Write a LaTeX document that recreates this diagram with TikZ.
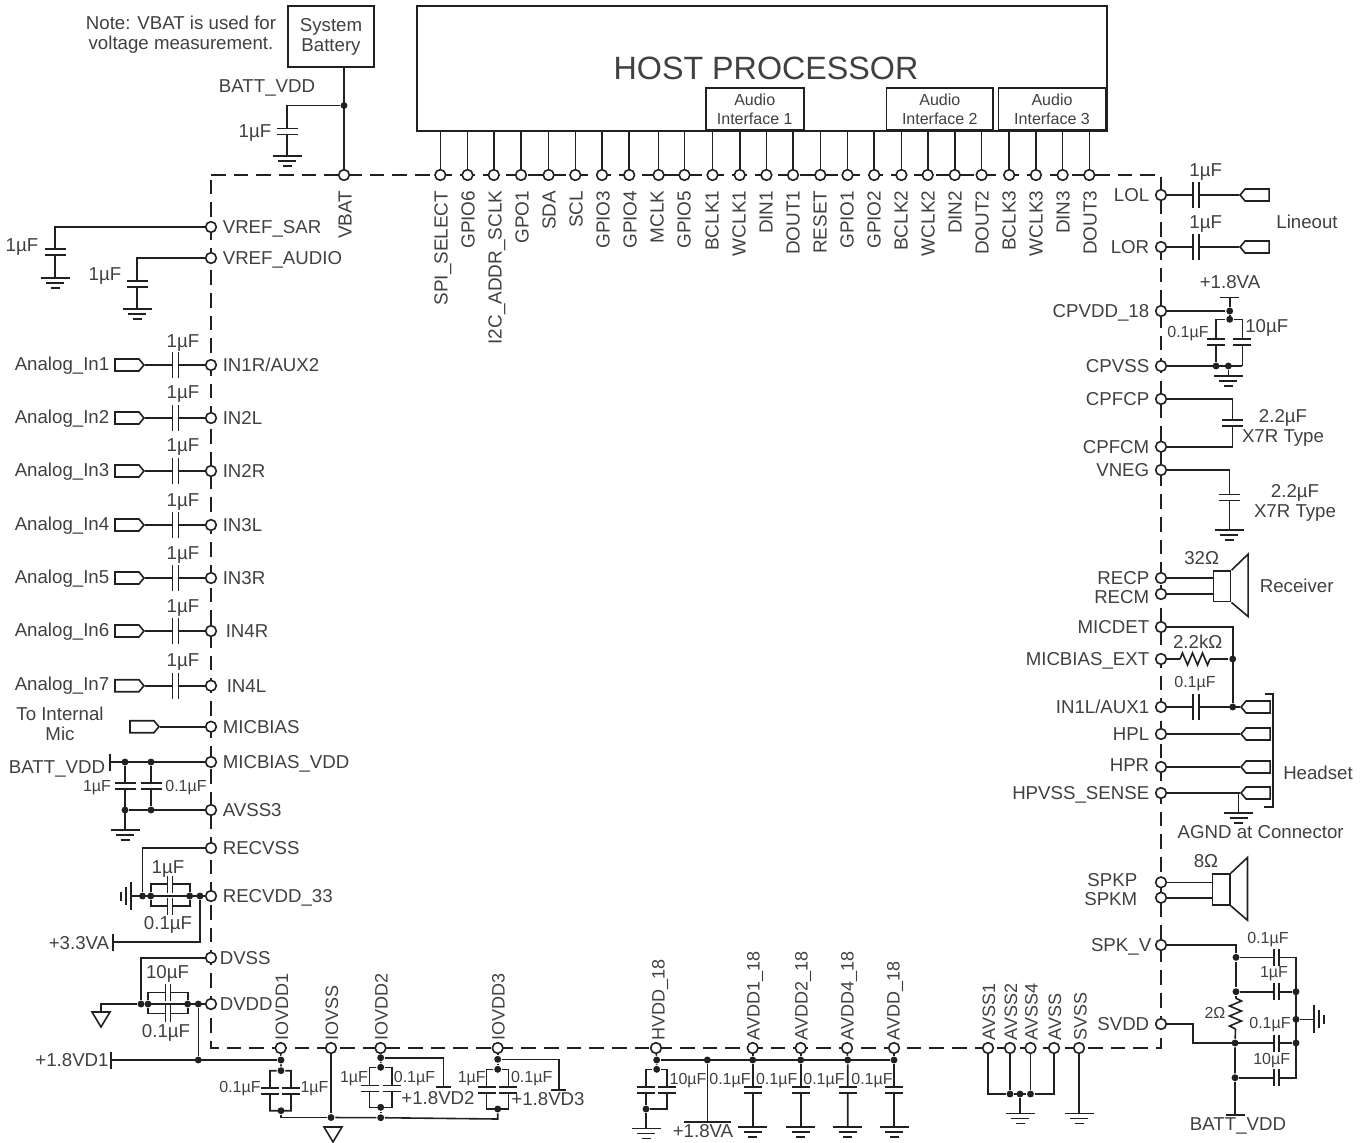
\documentclass[tikz,border=0pt]{standalone}
\usepackage{fontspec}
\setmainfont{Liberation Sans}
\usepackage{xcolor}
\usetikzlibrary{shapes}
\definecolor{wire}{HTML}{231F20}
\tikzstyle{port}=[circle,draw,fill=white,inner sep=0pt,minimum size=8pt]
\tikzstyle{dot}=[circle,fill=wire,inner sep=0pt,minimum size=5.2pt]
\tikzstyle{box}=[rectangle,draw,inner sep=0pt,text=black!75,align=center]
\tikzstyle{sig}=[signal,draw,fill=white,inner sep=0pt,minimum width=21.75pt,minimum height=9pt,signal pointer angle=100]
\tikzstyle{txt}=[inner sep=0pt,text=black!75,font=\fontsize{14}{15}\selectfont,align=center]
\tikzstyle{lab}=[txt,text height=10pt,text depth=0pt]
\tikzstyle{smalllab}=[lab,font=\fontsize{12}{14}\selectfont,text height=8.6pt]
\tikzstyle{rlab}=[lab,anchor=east]
\tikzstyle{llab}=[lab,anchor=west]
\tikzstyle{toplab}=[lab,font=\fontsize{14.2}{15}\selectfont,rotate=90,anchor=east]
\tikzstyle{botlab}=[lab,font=\fontsize{13.5}{15}\selectfont,rotate=90,anchor=west]
\tikzset{
  vcap/.pic={\fill[white] (-10.5,-3) rectangle (10.5,3); \draw (-10.5,-3) -- (10.5,-3) (-10.5,3) -- (10.5,3);},
  svcap/.pic={\fill[white] (-9,-3) rectangle (9,3); \draw (-9,-3) -- (9,-3) (-9,3) -- (9,3);},
  hcap/.pic={\fill[white] (-3,-13) rectangle (3,13); \draw (-3,-13) -- (-3,13) (3,-13) -- (3,13);},
  shcap/.pic={\fill[white] (-2.5,-8.5) rectangle (2.5,8.5); \draw (-2.5,-8.5) -- (-2.5,8.5) (2.5,-8.5) -- (2.5,8.5);},
  gnd/.pic={\draw (-14.5,0) -- (14.5,0) (-9,5) -- (9,5) (-4.5,10) -- (4.5,10);},
  gndw/.pic={\draw (0,-14) -- (0,14) (-5,-9) -- (-5,9) (-10,-4.5) -- (-10,4.5);},
  gnde/.pic={\draw (0,-14) -- (0,14) (5,-9) -- (5,9) (10,-4.5) -- (10,4.5);},
  gndtri/.pic={\draw (-9,0) -- (9,0) -- (0,15) -- cycle;},
  vbar/.pic={\draw (0,-8.5) -- (0,8.5);},
  hbar/.pic={\draw (-9.5,0) -- (9.5,0);},
  resh/.pic={\draw (-15,0) -- (-12.5,-6) -- (-7.5,6) -- (-2.5,-6) -- (2.5,6) -- (7.5,-6) -- (12.5,6) -- (15,0);},
  resv/.pic={\draw (0,-15.5) -- (6,-12.5) -- (-6,-7.5) -- (6,-2.5) -- (-6,2.5) -- (6,7.5) -- (-6,12.5) -- (0,15.5);}
}

\begin{document}
\begin{tikzpicture}[x=0.75pt,y=-0.75pt,line width=1.2pt,color=wire]
        \useasboundingbox (0,0) rectangle (1366,1142);

        % device outline
        \coordinate (tl) at (211,175);
        \coordinate (tr) at (1161,175);
        \coordinate (br) at (1161,1048);
        \coordinate (bl) at (211,1048);
        \draw[dash pattern=on 11pt off 6pt] (tl) -- (tr) -- (br) -- (bl) -- cycle;

        % host
        \node at (762,68.5) [box,minimum width=517.5pt,minimum height=93.75pt] (host) {};
        \node at (766,68) [txt,font=\fontsize{24.2}{28}\selectfont] (thost) {HOST PROCESSOR};
        \node at (754.7,109) [box,fill=white,font=\fontsize{12}{14.25}\selectfont,minimum width=73.5pt,minimum height=31.7pt] (audio1) {Audio\\Interface 1};
        \node at (939.8,109) [box,fill=white,font=\fontsize{12}{14.25}\selectfont,minimum width=80pt,minimum height=31.7pt] (audio2) {Audio\\Interface 2};
        \node at (1052,109) [box,fill=white,font=\fontsize{12}{14.25}\selectfont,minimum width=80pt,minimum height=31.7pt] (audio3) {Audio\\Interface 3};

        % top pins
        \node at (440.3,175) [port] (SPISELECT) {};
        \node at (441,190) [toplab] (tSPISELECT) {SPI\_SELECT};
        \node at (467.5,175) [port] (GPIO6) {};
        \node at (468,190) [toplab] (tGPIO6) {GPIO6};
        \node at (493.8,175) [port] (I2CADDR) {};
        \node at (495,190) [toplab] (tI2CADDR) {I2C\_ADDR\_SCLK};
        \node at (521,175) [port] (GPO1) {};
        \node at (522,190) [toplab] (tGPO1) {GPO1};
        \node at (548.6,175) [port] (SDA) {};
        \node at (549,190) [toplab] (tSDA) {SDA};
        \node at (575.3,175) [port] (SCL) {};
        \node at (576,190) [toplab] (tSCL) {SCL};
        \node at (602,175) [port] (GPIO3) {};
        \node at (603,190) [toplab] (tGPIO3) {GPIO3};
        \node at (629.2,175) [port] (GPIO4) {};
        \node at (630,190) [toplab] (tGPIO4) {GPIO4};
        \node at (658.6,175) [port] (MCLK) {};
        \node at (657,190) [toplab] (tMCLK) {MCLK};
        \node at (684.5,175) [port] (GPIO5) {};
        \node at (684,190) [toplab] (tGPIO5) {GPIO5};
        \node at (712.5,175) [port] (BCLK1) {};
        \node at (712,190) [toplab] (tBCLK1) {BCLK1};
        \node at (739.7,175) [port] (WCLK1) {};
        \node at (739,190) [toplab] (tWCLK1) {WCLK1};
        \node at (766.4,175) [port] (DIN1) {};
        \node at (766,190) [toplab] (tDIN1) {DIN1};
        \node at (793,175) [port] (DOUT1) {};
        \node at (793,190) [toplab] (tDOUT1) {DOUT1};
        \node at (820.3,175) [port] (RESET) {};
        \node at (820,190) [toplab] (tRESET) {RESET};
        \node at (847.5,175) [port] (GPIO1) {};
        \node at (847,190) [toplab] (tGPIO1) {GPIO1};
        \node at (874.2,175) [port] (GPIO2) {};
        \node at (874,190) [toplab] (tGPIO2) {GPIO2};
        \node at (901.4,175) [port] (BCLK2) {};
        \node at (901,190) [toplab] (tBCLK2) {BCLK2};
        \node at (927.7,175) [port] (WCLK2) {};
        \node at (928,190) [toplab] (tWCLK2) {WCLK2};
        \node at (954.8,175) [port] (DIN2) {};
        \node at (955,190) [toplab] (tDIN2) {DIN2};
        \node at (981.6,175) [port] (DOUT2) {};
        \node at (982,190) [toplab] (tDOUT2) {DOUT2};
        \node at (1009.2,175) [port] (BCLK3) {};
        \node at (1009,190) [toplab] (tBCLK3) {BCLK3};
        \node at (1035.9,175) [port] (WCLK3) {};
        \node at (1036,190) [toplab] (tWCLK3) {WCLK3};
        \node at (1062.6,175) [port] (DIN3) {};
        \node at (1063,190) [toplab] (tDIN3) {DIN3};
        \node at (1089.3,175) [port] (DOUT3) {};
        \node at (1090,190) [toplab] (tDOUT3) {DOUT3};

        \draw (SPISELECT |- host.south) -- (SPISELECT);
        \draw (GPIO6 |- host.south) -- (GPIO6);
        \draw (I2CADDR |- host.south) -- (I2CADDR);
        \draw (GPO1 |- host.south) -- (GPO1);
        \draw (SDA |- host.south) -- (SDA);
        \draw (SCL |- host.south) -- (SCL);
        \draw (GPIO3 |- host.south) -- (GPIO3);
        \draw (GPIO4 |- host.south) -- (GPIO4);
        \draw (MCLK |- host.south) -- (MCLK);
        \draw (GPIO5 |- host.south) -- (GPIO5);
        \draw (BCLK1 |- host.south) -- (BCLK1);
        \draw (WCLK1 |- host.south) -- (WCLK1);
        \draw (DIN1 |- host.south) -- (DIN1);
        \draw (DOUT1 |- host.south) -- (DOUT1);
        \draw (RESET |- host.south) -- (RESET);
        \draw (GPIO1 |- host.south) -- (GPIO1);
        \draw (GPIO2 |- host.south) -- (GPIO2);
        \draw (BCLK2 |- host.south) -- (BCLK2);
        \draw (WCLK2 |- host.south) -- (WCLK2);
        \draw (DIN2 |- host.south) -- (DIN2);
        \draw (DOUT2 |- host.south) -- (DOUT2);
        \draw (BCLK3 |- host.south) -- (BCLK3);
        \draw (WCLK3 |- host.south) -- (WCLK3);
        \draw (DIN3 |- host.south) -- (DIN3);
        \draw (DOUT3 |- host.south) -- (DOUT3);

        % battery
        \node at (331,36.5) [box,font=\fontsize{14}{15}\selectfont,minimum width=64.5pt,minimum height=45.75pt] (battery) {System\\Battery};
        \node at (181,35) [txt] (tnote) {Note: VBAT is used for\\voltage measurement.};
        \node at (267,86) [lab] (tbatt) {BATT\_VDD};
        \node at (255,131) [lab] (cbat) {1µF};
        \node at (344,175) [port] (VBAT) {};
        \node at (345,190) [toplab] (tVBAT) {VBAT};
        \node at (344,105.5) [dot] (jbat) {};
        \coordinate (gbat) at (287,156);
        \draw (battery.south -| VBAT) -- (VBAT);
        \draw (jbat) -| (gbat);
        \pic at (287,131.5) {vcap};
        \pic at (gbat) {gnd};

        % references
        \node at (211,227) [port] (VREFSAR) {};
        \node at (222,227) [llab] (tVREFSAR) {VREF\_SAR};
        \node at (22,245) [lab] (cVREFSAR) {1µF};
        \coordinate (gsar) at (55,278);
        \draw (VREFSAR) -| (gsar);
        \pic at (55,252) {vcap};
        \pic at (gsar) {gnd};
        \node at (211,258) [port] (VREFAUDIO) {};
        \node at (222,258) [llab] (tVREFAUDIO) {VREF\_AUDIO};
        \node at (105,274) [lab] (cVREFAUDIO) {1µF};
        \coordinate (gaudio) at (137,309);
        \draw (VREFAUDIO) -| (gaudio);
        \pic at (137,283.7) {vcap};
        \pic at (gaudio) {gnd};

        % analog inputs
        \node at (211,365) [port] (IN1R) {};
        \node at (222,365) [llab] (tIN1R) {IN1R/AUX2};
        \node at (145,365) [sig,anchor=east,signal to=east] (AIN1) {};
        \node at (62,364) [lab] (tAIN1) {Analog\_In1};
        \node at (183,341) [lab] (cAIN1) {1µF};
        \draw (AIN1.east) -- (IN1R);
        \pic at (175.5,365) {hcap};
        \node at (211,418) [port] (IN2L) {};
        \node at (222,418) [llab] (tIN2L) {IN2L};
        \node at (145,418) [sig,anchor=east,signal to=east] (AIN2) {};
        \node at (62,417) [lab] (tAIN2) {Analog\_In2};
        \node at (183,392) [lab] (cAIN2) {1µF};
        \draw (AIN2.east) -- (IN2L);
        \pic at (175.5,418) {hcap};
        \node at (211,471) [port] (IN2R) {};
        \node at (222,471) [llab] (tIN2R) {IN2R};
        \node at (145,471) [sig,anchor=east,signal to=east] (AIN3) {};
        \node at (62,470) [lab] (tAIN3) {Analog\_In3};
        \node at (183,445) [lab] (cAIN3) {1µF};
        \draw (AIN3.east) -- (IN2R);
        \pic at (175.5,471) {hcap};
        \node at (211,525) [port] (IN3L) {};
        \node at (222,525) [llab] (tIN3L) {IN3L};
        \node at (145,525) [sig,anchor=east,signal to=east] (AIN4) {};
        \node at (62,524) [lab] (tAIN4) {Analog\_In4};
        \node at (183,500) [lab] (cAIN4) {1µF};
        \draw (AIN4.east) -- (IN3L);
        \pic at (175.5,525) {hcap};
        \node at (211,578) [port] (IN3R) {};
        \node at (222,578) [llab] (tIN3R) {IN3R};
        \node at (145,578) [sig,anchor=east,signal to=east] (AIN5) {};
        \node at (62,577) [lab] (tAIN5) {Analog\_In5};
        \node at (183,553) [lab] (cAIN5) {1µF};
        \draw (AIN5.east) -- (IN3R);
        \pic at (175.5,578) {hcap};
        \node at (211,631) [port] (IN4R) {};
        \node at (225,631) [llab] (tIN4R) {IN4R};
        \node at (145,631) [sig,anchor=east,signal to=east] (AIN6) {};
        \node at (62,630) [lab] (tAIN6) {Analog\_In6};
        \node at (183,606) [lab] (cAIN6) {1µF};
        \draw (AIN6.east) -- (IN4R);
        \pic at (175.5,631) {hcap};
        \node at (211,685.7) [port] (IN4L) {};
        \node at (226,685.7) [llab] (tIN4L) {IN4L};
        \node at (145,685.7) [sig,anchor=east,signal to=east] (AIN7) {};
        \node at (62,684) [lab] (tAIN7) {Analog\_In7};
        \node at (183,660) [lab] (cAIN7) {1µF};
        \draw (AIN7.east) -- (IN4L);
        \pic at (175.5,685.7) {hcap};

        % mic bias
        \node at (211,726.7) [port] (MICBIAS) {};
        \node at (222,726.7) [llab] (tMICBIAS) {MICBIAS};
        \node at (160,726.7) [sig,anchor=east,signal to=east] (MIC) {};
        \node at (60,724) [txt] (tMIC) {To Internal\\Mic};
        \draw (MIC.east) -- (MICBIAS);

        \node at (211,762) [port] (MICBIASVDD) {};
        \node at (222,762) [llab] (tMICBIASVDD) {MICBIAS\_VDD};
        \node at (211,810) [port] (AVSSt) {};
        \node at (222,810) [llab] (tAVSSt) {AVSS3};
        \node at (57,767) [lab] (tbattm) {BATT\_VDD};
        \coordinate (bmic) at (110,762);
        \node at (125,762) [dot] (jm1) {};
        \node at (151,762) [dot] (jm2) {};
        \node at (125,810) [dot] (jm3) {};
        \node at (151,810) [dot] (jm4) {};
        \coordinate (gmic) at (125,830);
        \draw (bmic) -- (MICBIASVDD);
        \draw (jm3) -- (AVSSt);
        \draw (jm1) -- (gmic);
        \draw (jm2) -- (jm4);
        \pic at (bmic) {vbar};
        \pic at (125,786) {vcap};
        \pic at (151,786) {vcap};
        \pic at (gmic) {gnd};
        \node at (97,786) [smalllab] (cm1) {1µF};
        \node at (186,786) [smalllab] (cm2) {0.1µF};

        % receiver supply
        \node at (211,848) [port] (RECVSS) {};
        \node at (222,848) [llab] (tRECVSS) {RECVSS};
        \node at (211,896) [port] (RECVDD) {};
        \node at (222,896) [llab] (tRECVDD) {RECVDD\_33};
        \coordinate (grec) at (131,896);
        \node at (142.5,896) [dot] (jr1) {};
        \node at (150.7,896) [dot] (jr2) {};
        \node at (189.7,896) [dot] (jr3) {};
        \node at (200,896) [dot] (jr4) {};
        \coordinate (rt) at (170,884);
        \coordinate (rb) at (170,906);
        \coordinate (r33) at (113,942);
        \draw (grec) -- (RECVDD);
        \draw (RECVSS) -| (jr1);
        \draw (jr2) |- (rt) -| (jr3);
        \draw (jr2) |- (rb) -| (jr3);
        \draw (jr4) |- (r33);
        \pic at (grec) {gndw};
        \pic at (rt) {shcap};
        \pic at (rb) {shcap};
        \pic at (r33) {vbar};
        \node at (168,867) [lab] (cr1) {1µF};
        \node at (168,923) [lab] (cr2) {0.1µF};
        \node at (79,943) [lab] (tr33) {+3.3VA};

        % digital supply
        \node at (211,957.7) [port] (DVSS) {};
        \node at (219,957.7) [llab] (tDVSS) {DVSS};
        \node at (211,1004) [port] (DVDD) {};
        \node at (219,1004) [llab] (tDVDD) {DVDD};
        \coordinate (gdig) at (101,1012);
        \node at (141,1004) [dot] (jd1) {};
        \node at (148,1004) [dot] (jd2) {};
        \node at (187.7,1004) [dot] (jd3) {};
        \node at (198.3,1004) [dot] (jd4) {};
        \node at (198.3,1060) [dot] (jd5) {};
        \coordinate (dt) at (168,992.3);
        \coordinate (db) at (168,1013.3);
        \coordinate (d18) at (111,1060);
        \draw (DVDD) -- (jd1) -| (gdig);
        \draw (DVSS) -| (jd1);
        \draw (jd2) |- (dt) -| (jd3);
        \draw (jd2) |- (db) -| (jd3);
        \draw (jd4) -- (jd5);
        \pic at (gdig) {gndtri};
        \pic at (dt) {shcap};
        \pic at (db) {shcap};
        \pic at (d18) {vbar};
        \node at (167.5,971.7) [lab] (cd1) {10µF};
        \node at (166,1030.7) [lab] (cd2) {0.1µF};
        \node at (72,1060) [lab] (td18) {+1.8VD1};

        % io supplies
        \node at (280.7,1048) [port] (IOVDDa) {};
        \node at (281.5,1041) [botlab] (tIOVDDa) {IOVDD1};
        \node at (331,1048) [port] (IOVSS) {};
        \node at (331.5,1041) [botlab] (tIOVSS) {IOVSS};
        \node at (380.5,1048) [port] (IOVDDb) {};
        \node at (381,1041) [botlab] (tIOVDDb) {IOVDD2};
        \node at (497.7,1048) [port] (IOVDDc) {};
        \node at (498,1041) [botlab] (tIOVDDc) {IOVDD3};

        \node at (281,1060) [dot] (ja1) {};
        \node at (281,1070.7) [dot] (ja2) {};
        \node at (281,1110.7) [dot] (ja3) {};
        \coordinate (al) at (270,1110.7);
        \coordinate (ar) at (291,1110.7);
        \coordinate (ga) at (281,1117.5);
        \node at (331,1117.5) [dot] (jio) {};
        \coordinate (gio) at (333,1127);
        \draw (d18) -- (ja1);
        \draw (IOVDDa) -- (ja1) -- (ja2) -| (al) -- (ar) |- (ja2);
        \draw (ja3) -- (ga) -- (jio);
        \draw (IOVSS) -- (jio);
        \pic at (270,1090.7) {svcap};
        \pic at (291,1090.7) {svcap};
        \pic at (gio) {gndtri};
        \node at (240,1087) [smalllab] (ca1) {0.1µF};
        \node at (314.5,1087) [smalllab] (ca2) {1µF};

        \node at (380.7,1057.7) [dot] (jb1) {};
        \node at (380.7,1067.3) [dot] (jb2) {};
        \node at (380.7,1107.3) [dot] (jb3) {};
        \node at (380.7,1117.7) [dot] (jb4) {};
        \coordinate (bl2) at (369.5,1107.3);
        \coordinate (br2) at (391.7,1107.3);
        \coordinate (vb) at (443.5,1086.7);
        \draw (IOVDDb) -- (jb1) -- (jb2);
        \draw (jb1) -| (vb);
        \draw (jb2) -| (bl2) -- (br2) |- (jb2);
        \draw (jb3) -- (jb4);
        \draw (jio) -- (jb4);
        \pic at (369.5,1088.3) {svcap};
        \pic at (391.7,1088.3) {svcap};
        \draw (vb) ++(-7.5,0) -- ++(15,0);
        \node at (354,1077) [smalllab] (cb1) {1µF};
        \node at (414.5,1077) [smalllab] (cb2) {0.1µF};
        \node at (438,1098) [lab] (tvb) {+1.8VD2};

        \node at (497.7,1059.3) [dot] (jc1) {};
        \node at (497.7,1069.3) [dot] (jc2) {};
        \node at (497.7,1109) [dot] (jc3) {};
        \coordinate (cl) at (486.5,1109);
        \coordinate (cr3) at (508.3,1109);
        \coordinate (jc4) at (497.7,1119);
        \coordinate (vc) at (558.7,1090);
        \draw (IOVDDc) -- (jc1) -- (jc2);
        \draw (jc1) -| (vc);
        \draw (jc2) -| (cl) -- (cr3) |- (jc2);
        \draw (jc3) -- (jc4) -- (jb4);
        \pic at (486.5,1090) {svcap};
        \pic at (508.3,1090) {svcap};
        \draw (vc) ++(-7.5,0) -- ++(15,0);
        \node at (471.7,1077) [smalllab] (cc1) {1µF};
        \node at (531.7,1077) [smalllab] (cc2) {0.1µF};
        \node at (548,1099) [lab] (tvc) {+1.8VD3};

        % analog supplies
        \node at (656,1048) [port] (HVDD) {};
        \node at (658,1041) [botlab] (tHVDD) {HVDD\_18};
        \node at (752.7,1048) [port] (AVDDa) {};
        \node at (753,1041) [botlab] (tAVDDa) {AVDD1\_18};
        \node at (800.7,1048) [port] (AVDDb) {};
        \node at (801,1041) [botlab] (tAVDDb) {AVDD2\_18};
        \node at (847,1048) [port] (AVDDd) {};
        \node at (847,1041) [botlab] (tAVDDd) {AVDD4\_18};
        \node at (894,1048) [port] (AVDD) {};
        \node at (893,1041) [botlab] (tAVDD) {AVDD\_18};

        \node at (656.7,1060) [dot] (jh1) {};
        \node at (656.7,1069.3) [dot] (jh2) {};
        \node at (646,1109) [dot] (jh3) {};
        \coordinate (hr) at (666.7,1109);
        \node at (707.3,1060) [dot] (jh4) {};
        \node at (752.7,1060) [dot] (jv1) {};
        \node at (800.7,1060) [dot] (jv2) {};
        \node at (847.7,1060) [dot] (jv3) {};
        \node at (894,1060) [dot] (jv4) {};
        \coordinate (gh) at (646,1128.3);
        \coordinate (vh) at (707.3,1122);
        \coordinate (gv1) at (752.7,1126.7);
        \coordinate (gv2) at (800.7,1126.7);
        \coordinate (gv3) at (847.7,1126.7);
        \coordinate (gv4) at (894,1126.7);
        \draw (HVDD) -- (jh1) -- (jh2);
        \draw (jh1) -- (jv4);
        \draw (jh2) -| (jh3);
        \draw (jh2) -| (hr) -- (jh3);
        \draw (jh3) -- (gh);
        \draw (jh4) -- (vh);
        \draw (AVDDa) -- (jv1) -- (gv1);
        \draw (AVDDb) -- (jv2) -- (gv2);
        \draw (AVDDd) -- (jv3) -- (gv3);
        \draw (AVDD) -- (jv4) -- (gv4);
        \pic at (646,1090) {svcap};
        \pic at (666.7,1090) {svcap};
        \pic at (752.7,1090) {svcap};
        \pic at (800.7,1090) {svcap};
        \pic at (847.7,1090) {svcap};
        \pic at (894,1090) {svcap};
        \pic at (gh) {gnd};
        \pic at (gv1) {gnd};
        \pic at (gv2) {gnd};
        \pic at (gv3) {gnd};
        \pic at (gv4) {gnd};
        \draw (vh) ++(-23.5,0) -- ++(47,0);
        \node at (688,1079) [smalllab] (ch1) {10µF};
        \node at (730,1079) [smalllab] (ch2) {0.1µF};
        \node at (776.7,1079) [smalllab] (ch3) {0.1µF};
        \node at (824,1079) [smalllab] (ch4) {0.1µF};
        \node at (872,1079) [smalllab] (ch5) {0.1µF};
        \node at (703,1131) [lab] (tvh) {+1.8VA};

        % grounds
        \node at (988,1048) [port] (AVSSa) {};
        \node at (988.5,1041) [botlab] (tAVSSa) {AVSS1};
        \node at (1010,1048) [port] (AVSSb) {};
        \node at (1010.5,1041) [botlab] (tAVSSb) {AVSS2};
        \node at (1030.5,1048) [port] (AVSSd) {};
        \node at (1031,1041) [botlab] (tAVSSd) {AVSS4};
        \node at (1054,1048) [port] (AVSS) {};
        \node at (1054.5,1041) [botlab] (tAVSS) {AVSS};
        \node at (1079,1048) [port] (SVSS) {};
        \node at (1080,1041) [botlab] (tSVSS) {SVSS};
        \node at (1010,1094) [dot] (jg1) {};
        \node at (1020,1094) [dot] (jg2) {};
        \node at (1030.5,1094) [dot] (jg3) {};
        \coordinate (gg) at (1020,1113.3);
        \coordinate (gs) at (1079,1113.3);
        \draw (AVSSa) |- (jg1);
        \draw (AVSS) |- (jg3);
        \draw (jg1) -- (jg3);
        \draw (AVSSb) -- (jg1);
        \draw (AVSSd) -- (jg3);
        \draw (jg2) -- (gg);
        \draw (SVSS) -- (gs);
        \pic at (gg) {gnd};
        \pic at (gs) {gnd};

        % line out
        \node at (1161,195) [port] (LOL) {};
        \node at (1150,195) [rlab] (tLOL) {LOL};
        \node at (1239,195) [sig,anchor=west,signal to=west] (LOLout) {};
        \node at (1205.7,170) [lab] (cLOL) {1µF};
        \draw (LOL) -- (LOLout.west);
        \pic at (1196,195) {hcap};
        \node at (1161,247) [port] (LOR) {};
        \node at (1150,247) [rlab] (tLOR) {LOR};
        \node at (1239,247) [sig,anchor=west,signal to=west] (LORout) {};
        \node at (1205.7,221.7) [lab] (cLOR) {1µF};
        \draw (LOR) -- (LORout.west);
        \pic at (1196,247) {hcap};
        \node at (1307,221.7) [lab] (tlineout) {Lineout};

        % charge pump
        \node at (1161,311) [port] (CPVDD) {};
        \node at (1150,311) [rlab] (tCPVDD) {CPVDD\_18};
        \node at (1161,366) [port] (CPVSS) {};
        \node at (1150,366) [rlab] (tCPVSS) {CPVSS};
        \node at (1229.7,311) [dot] (jp1) {};
        \node at (1229.7,319.3) [dot] (jp2) {};
        \node at (1216,366) [dot] (jp3) {};
        \node at (1228.3,366) [dot] (jp4) {};
        \coordinate (vp) at (1229.7,297.3);
        \coordinate (gp) at (1228.3,376);
        \coordinate (pr) at (1242.3,366);
        \draw (CPVDD) -- (jp1);
        \draw (vp) -- (jp1) -- (jp2);
        \draw (jp2) -| (jp3);
        \draw (jp2) -| (pr);
        \draw (CPVSS) -- (pr);
        \draw (jp4) -- (gp);
        \pic at (vp) {hbar};
        \pic at (1216,341.7) {svcap};
        \pic at (1242.3,341.7) {svcap};
        \pic at (gp) {gnd};
        \node at (1230,281.7) [lab] (tvp) {+1.8VA};
        \node at (1188,331.7) [smalllab] (cp1) {0.1µF};
        \node at (1266.7,325.7) [lab] (cp2) {10µF};

        \node at (1161,399) [port] (CPFCP) {};
        \node at (1150,399) [rlab] (tCPFCP) {CPFCP};
        \node at (1161,446.7) [port] (CPFCM) {};
        \node at (1150,446.7) [rlab] (tCPFCM) {CPFCM};
        \coordinate (fc) at (1232.3,423);
        \draw (CPFCP) -| (fc) |- (CPFCM);
        \pic at (fc) {vcap};
        \node at (1283,428) [txt] (cfc) {2.2µF\\X7R Type};

        \node at (1161,470) [port] (VNEG) {};
        \node at (1150,470) [rlab] (tVNEG) {VNEG};
        \coordinate (gn) at (1229.3,530);
        \draw (VNEG) -| (gn);
        \pic at (1229.3,497.3) {vcap};
        \pic at (gn) {gnd};
        \node at (1295,503) [txt] (cn) {2.2µF\\X7R Type};

        % receiver
        \node at (1161,578) [port] (RECP) {};
        \node at (1150,578) [rlab] (tRECP) {RECP};
        \node at (1161,594) [port] (RECM) {};
        \node at (1150,597) [rlab] (tRECM) {RECM};
        \node at (1222,586.3) [box,minimum width=13pt,minimum height=23pt] (recbox) {};
        \draw (RECP) -- (RECP -| recbox.west);
        \draw (RECM) -- (RECM -| recbox.west);
        \draw (recbox.north east) -- ++(16.6,-16) -- ++(0,62.3) -- (recbox.south east);
        \node at (1201.7,558) [lab] (trec) {32Ω};
        \node at (1296.7,585.7) [lab] (trecv) {Receiver};

        % headset
        \node at (1161,627) [port] (MICDET) {};
        \node at (1150,627) [rlab] (tMICDET) {MICDET};
        \node at (1161,659) [port] (MICBIASEXT) {};
        \node at (1150,659) [rlab] (tMICBIASEXT) {MICBIAS\_EXT};
        \node at (1161,707) [port] (INaL) {};
        \node at (1150,707) [rlab] (tINaL) {IN1L/AUX1};
        \node at (1161,734) [port] (HPL) {};
        \node at (1150,734) [rlab] (tHPL) {HPL};
        \node at (1161,767) [port] (HPR) {};
        \node at (1150,765) [rlab] (tHPR) {HPR};
        \node at (1161,793) [port] (HPVSS) {};
        \node at (1150,793) [rlab] (tHPVSS) {HPVSS\_SENSE};
        \node at (1232.7,659) [dot] (jh5) {};
        \node at (1232.7,707) [dot] (jh6) {};
        \node at (1240,707) [sig,anchor=west,signal to=west] (hs1) {};
        \node at (1240,734) [sig,anchor=west,signal to=west] (hs2) {};
        \node at (1240,767) [sig,anchor=west,signal to=west] (hs3) {};
        \node at (1240,793) [sig,anchor=west,signal to=west] (hs4) {};
        \coordinate (rl) at (1180,659);
        \coordinate (rr) at (1210,659);
        \coordinate (rc) at (1195,659);
        \coordinate (gj) at (1238.5,793);
        \coordinate (gc) at (1238.5,812.7);
        \coordinate (hb1) at (1265,694);
        \coordinate (hb2) at (1273,807);
        \coordinate (hb3) at (1264,807);
        \draw (MICDET) -| (jh6);
        \draw (MICBIASEXT) -- (rl);
        \draw (rr) -- (jh5);
        \draw (INaL) -- (hs1.west);
        \draw (HPL) -- (hs2.west);
        \draw (HPR) -- (hs3.west);
        \draw (HPVSS) -- (hs4.west);
        \draw (gj) -- (gc);
        \draw (hb1) -| (hb2) -- (hb3);
        \pic at (rc) {resh};
        \pic at (1195.7,707) {hcap};
        \pic at (gc) {gnd};
        \node at (1197.7,641.7) [lab] (cr) {2.2kΩ};
        \node at (1195,681.7) [smalllab] (cc) {0.1µF};
        \node at (1318,773) [lab] (theadset) {Headset};
        \node at (1260.7,831.7) [lab] (tagnd) {AGND at Connector};

        % speaker
        \node at (1161,882.3) [port] (SPKP) {};
        \node at (1138,880) [rlab] (tSPKP) {SPKP};
        \node at (1161,897.7) [port] (SPKM) {};
        \node at (1138,899.3) [rlab] (tSPKM) {SPKM};
        \node at (1221.3,889.5) [box,minimum width=13pt,minimum height=23.25pt] (spkbox) {};
        \draw (SPKP) -- (SPKP -| spkbox.west);
        \draw (SPKM) -- (SPKM -| spkbox.west);
        \draw (spkbox.north east) -- ++(16.7,-15.7) -- ++(0,62.7) -- (spkbox.south east);
        \node at (1206,860.7) [lab] (tspk) {8Ω};

        % speaker supply
        \node at (1161,945) [port] (SPKV) {};
        \node at (1152,945) [rlab] (tSPKV) {SPK\_V};
        \node at (1161,1024) [port] (SVDD) {};
        \node at (1150,1024) [rlab] (tSVDD) {SVDD};
        \node at (1236,957.3) [dot] (js1) {};
        \node at (1236,991.7) [dot] (js2) {};
        \node at (1235,1043) [dot] (js3) {};
        \node at (1235,1077.7) [dot] (js4) {};
        \node at (1296,991.7) [dot] (js5) {};
        \node at (1296,1019.3) [dot] (js6) {};
        \node at (1296,1043) [dot] (js7) {};
        \coordinate (sr) at (1235.5,1013.5);
        \coordinate (st) at (1236,998);
        \coordinate (sb) at (1235.5,1029);
        \coordinate (stop) at (1296,957.3);
        \coordinate (sbot) at (1296,1077.7);
        \coordinate (ssv) at (1192.7,1043);
        \coordinate (gsp) at (1314,1019.3);
        \coordinate (vbatt) at (1235,1115);
        \draw (SPKV) -| (js1) -- (js2) -- (st);
        \draw (sb) -- (js3) -- (js4) -- (vbatt);
        \draw (SVDD) -| (ssv) -- (js7);
        \draw (js1) -- (stop) -- (sbot) -- (js4);
        \draw (js2) -- (js5);
        \draw (js6) -- (gsp);
        \pic at (sr) {resv};
        \pic at (1276.5,957.3) {shcap};
        \pic at (1276.5,991.7) {shcap};
        \pic at (1276.5,1043) {shcap};
        \pic at (1276.5,1077.7) {shcap};
        \pic at (gsp) {gnde};
        \draw (vbatt) ++(-9.5,0) -- ++(19,0);
        \node at (1268,937.3) [smalllab] (cs1) {0.1µF};
        \node at (1274,971.7) [smalllab] (cs2) {1µF};
        \node at (1215,1012.7) [smalllab] (cs3) {2Ω};
        \node at (1270,1023) [smalllab] (cs4) {0.1µF};
        \node at (1271.7,1059) [smalllab] (cs5) {10µF};
        \node at (1238,1124) [lab] (tbatts) {BATT\_VDD};
      \end{tikzpicture}
\end{document}
